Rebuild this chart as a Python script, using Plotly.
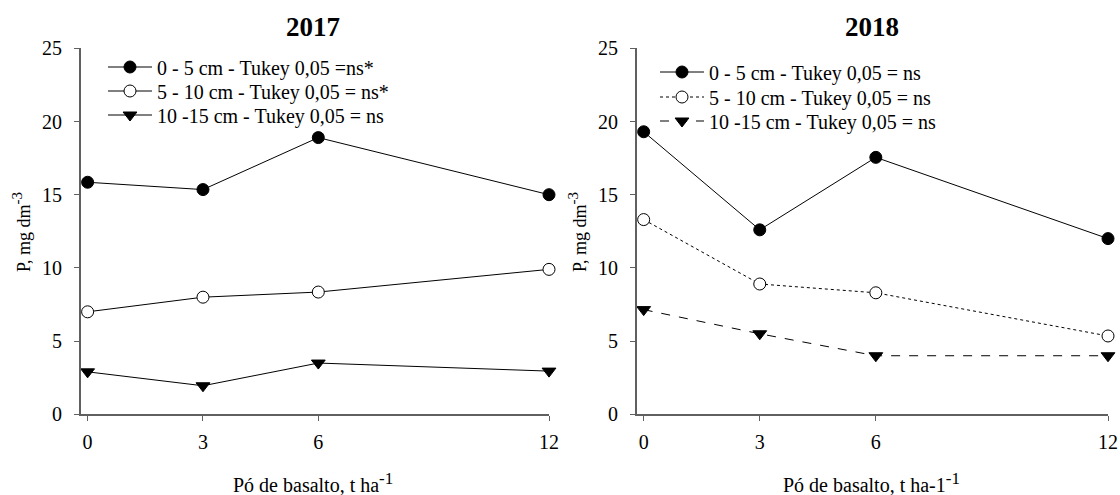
import plotly.graph_objects as go

doses = [0, 3, 6, 12]
tick_labels = ["0", "3", "6", "12"]
y_ticks = [0, 5, 10, 15, 20, 25]

p2017_0_5 = [15.85, 15.35, 18.9, 15.0]
p2017_5_10 = [7.0, 8.0, 8.35, 9.9]
p2017_10_15 = [2.9, 1.95, 3.5, 2.95]

p2018_0_5 = [19.3, 12.6, 17.55, 12.0]
p2018_5_10 = [13.3, 8.9, 8.3, 5.35]
p2018_10_15 = [7.15, 5.5, 4.0, 4.0]

names2017 = ["0 - 5 cm - Tukey 0,05 =ns*", "5 - 10 cm - Tukey 0,05 = ns*", "10 -15 cm - Tukey 0,05 = ns"]
names2018 = ["0 - 5 cm - Tukey 0,05 = ns", "5 - 10 cm - Tukey 0,05 = ns", "10 -15 cm - Tukey 0,05 = ns"]

FONT = "Liberation Serif, Times New Roman, serif"
W, H = 1120, 495


def fx(px):
    return px / W


def fy(py):
    return 1 - py / H


fig = go.Figure()

styles = [
    dict(symbol="circle", color="black", size=12),
    dict(symbol="circle", color="white", size=12),
    dict(symbol="triangle-down", color="black", size=12),
]


def add(xa, ya, ys, name, st, dash, legend):
    fig.add_trace(go.Scatter(
        x=doses, y=ys, name=name, mode="lines+markers",
        xaxis=xa, yaxis=ya, legend=legend, cliponaxis=False,
        line=dict(color="black", width=1, dash=dash),
        marker=dict(symbol=st["symbol"], size=st["size"], color=st["color"],
                    line=dict(color="black", width=1)),
    ))


for i, (ys, n, st) in enumerate(zip([p2017_0_5, p2017_5_10, p2017_10_15], names2017, styles)):
    add("x", "y", ys, n, st, "solid", "legend" if i == 0 else f"legend{i + 1}")
for i, (ys, n, st, d) in enumerate(zip([p2018_0_5, p2018_5_10, p2018_10_15], names2018, styles,
                                       ["solid", "dot", "dash"])):
    add("x2", "y2", ys, n, st, d, f"legend{i + 4}")

ydom = [fy(414.3), fy(48.3)]
axis_common = dict(
    showline=True, linecolor="#606060", linewidth=1.5, ticks="outside", ticklen=5,
    tickcolor="#606060", tickwidth=1.2, showgrid=False, zeroline=False, automargin=False,
    tickfont=dict(family=FONT, size=20, color="black"),
)
xcommon = dict(axis_common, range=[-0.18, 12], tickvals=doses, ticktext=tick_labels,
               ticklabelstandoff=4)
ycommon = dict(axis_common, range=[0, 25], tickvals=y_ticks, ticklabelstandoff=8)

legend_common = dict(xanchor="left", yanchor="middle", bgcolor="rgba(0,0,0,0)",
                     font=dict(family=FONT, size=20, color="black"),
                     tracegroupgap=0, itemwidth=44, borderwidth=0)

layout_legends = {}
left_rows = [67, 91, 115]
right_rows = [72, 97, 121]
for i, r in enumerate(left_rows):
    key = "legend" if i == 0 else f"legend{i + 1}"
    layout_legends[key] = dict(legend_common, x=fx(123 - 20), y=fy(r))
for i, r in enumerate(right_rows):
    layout_legends[f"legend{i + 4}"] = dict(legend_common, x=fx(675 - 20), y=fy(r))

fig.update_layout(
    template="none",
    width=W, height=H, margin=dict(l=0, r=0, t=0, b=0, pad=0, autoexpand=False),
    plot_bgcolor="white", paper_bgcolor="white",
    font=dict(family=FONT, color="black"),
    xaxis=dict(xcommon, domain=[fx(80.7), fx(549)], anchor="y"),
    yaxis=dict(ycommon, domain=ydom, anchor="x"),
    xaxis2=dict(xcommon, domain=[fx(636.7), fx(1108)], anchor="y2"),
    yaxis2=dict(ycommon, domain=ydom, anchor="x2"),
    showlegend=True,
    **layout_legends,
)

for txt, xc in [("<b>2017</b>", 313), ("<b>2018</b>", 872)]:
    fig.add_annotation(text=txt, xref="paper", yref="paper", x=fx(xc), y=fy(27),
                       xanchor="center", yanchor="middle", showarrow=False,
                       font=dict(family=FONT, size=27))

sup = '<sup><span style="font-size:17px">-1</span></sup>'
fig.add_annotation(text="Pó de basalto, t ha" + sup, xref="paper", yref="paper",
                   x=fx(313), y=fy(482), xanchor="center", yanchor="middle",
                   showarrow=False, font=dict(family=FONT, size=20))
fig.add_annotation(text="Pó de basalto, t ha-1" + sup, xref="paper", yref="paper",
                   x=fx(871), y=fy(482), xanchor="center", yanchor="middle",
                   showarrow=False, font=dict(family=FONT, size=20))
for xp in [21, 577]:
    fig.add_annotation(text='P, mg dm<sup><span style="font-size:15px">-3</span></sup>',
                       xref="paper", yref="paper",
                       x=fx(xp), y=fy(232), xanchor="center", yanchor="middle",
                       textangle=-90, showarrow=False, font=dict(family=FONT, size=18))

fig.write_html(
    "out.html",
    config={"displayModeBar": False},
    post_script="document.body.style.margin='0px';document.body.style.overflow='hidden';",
)
